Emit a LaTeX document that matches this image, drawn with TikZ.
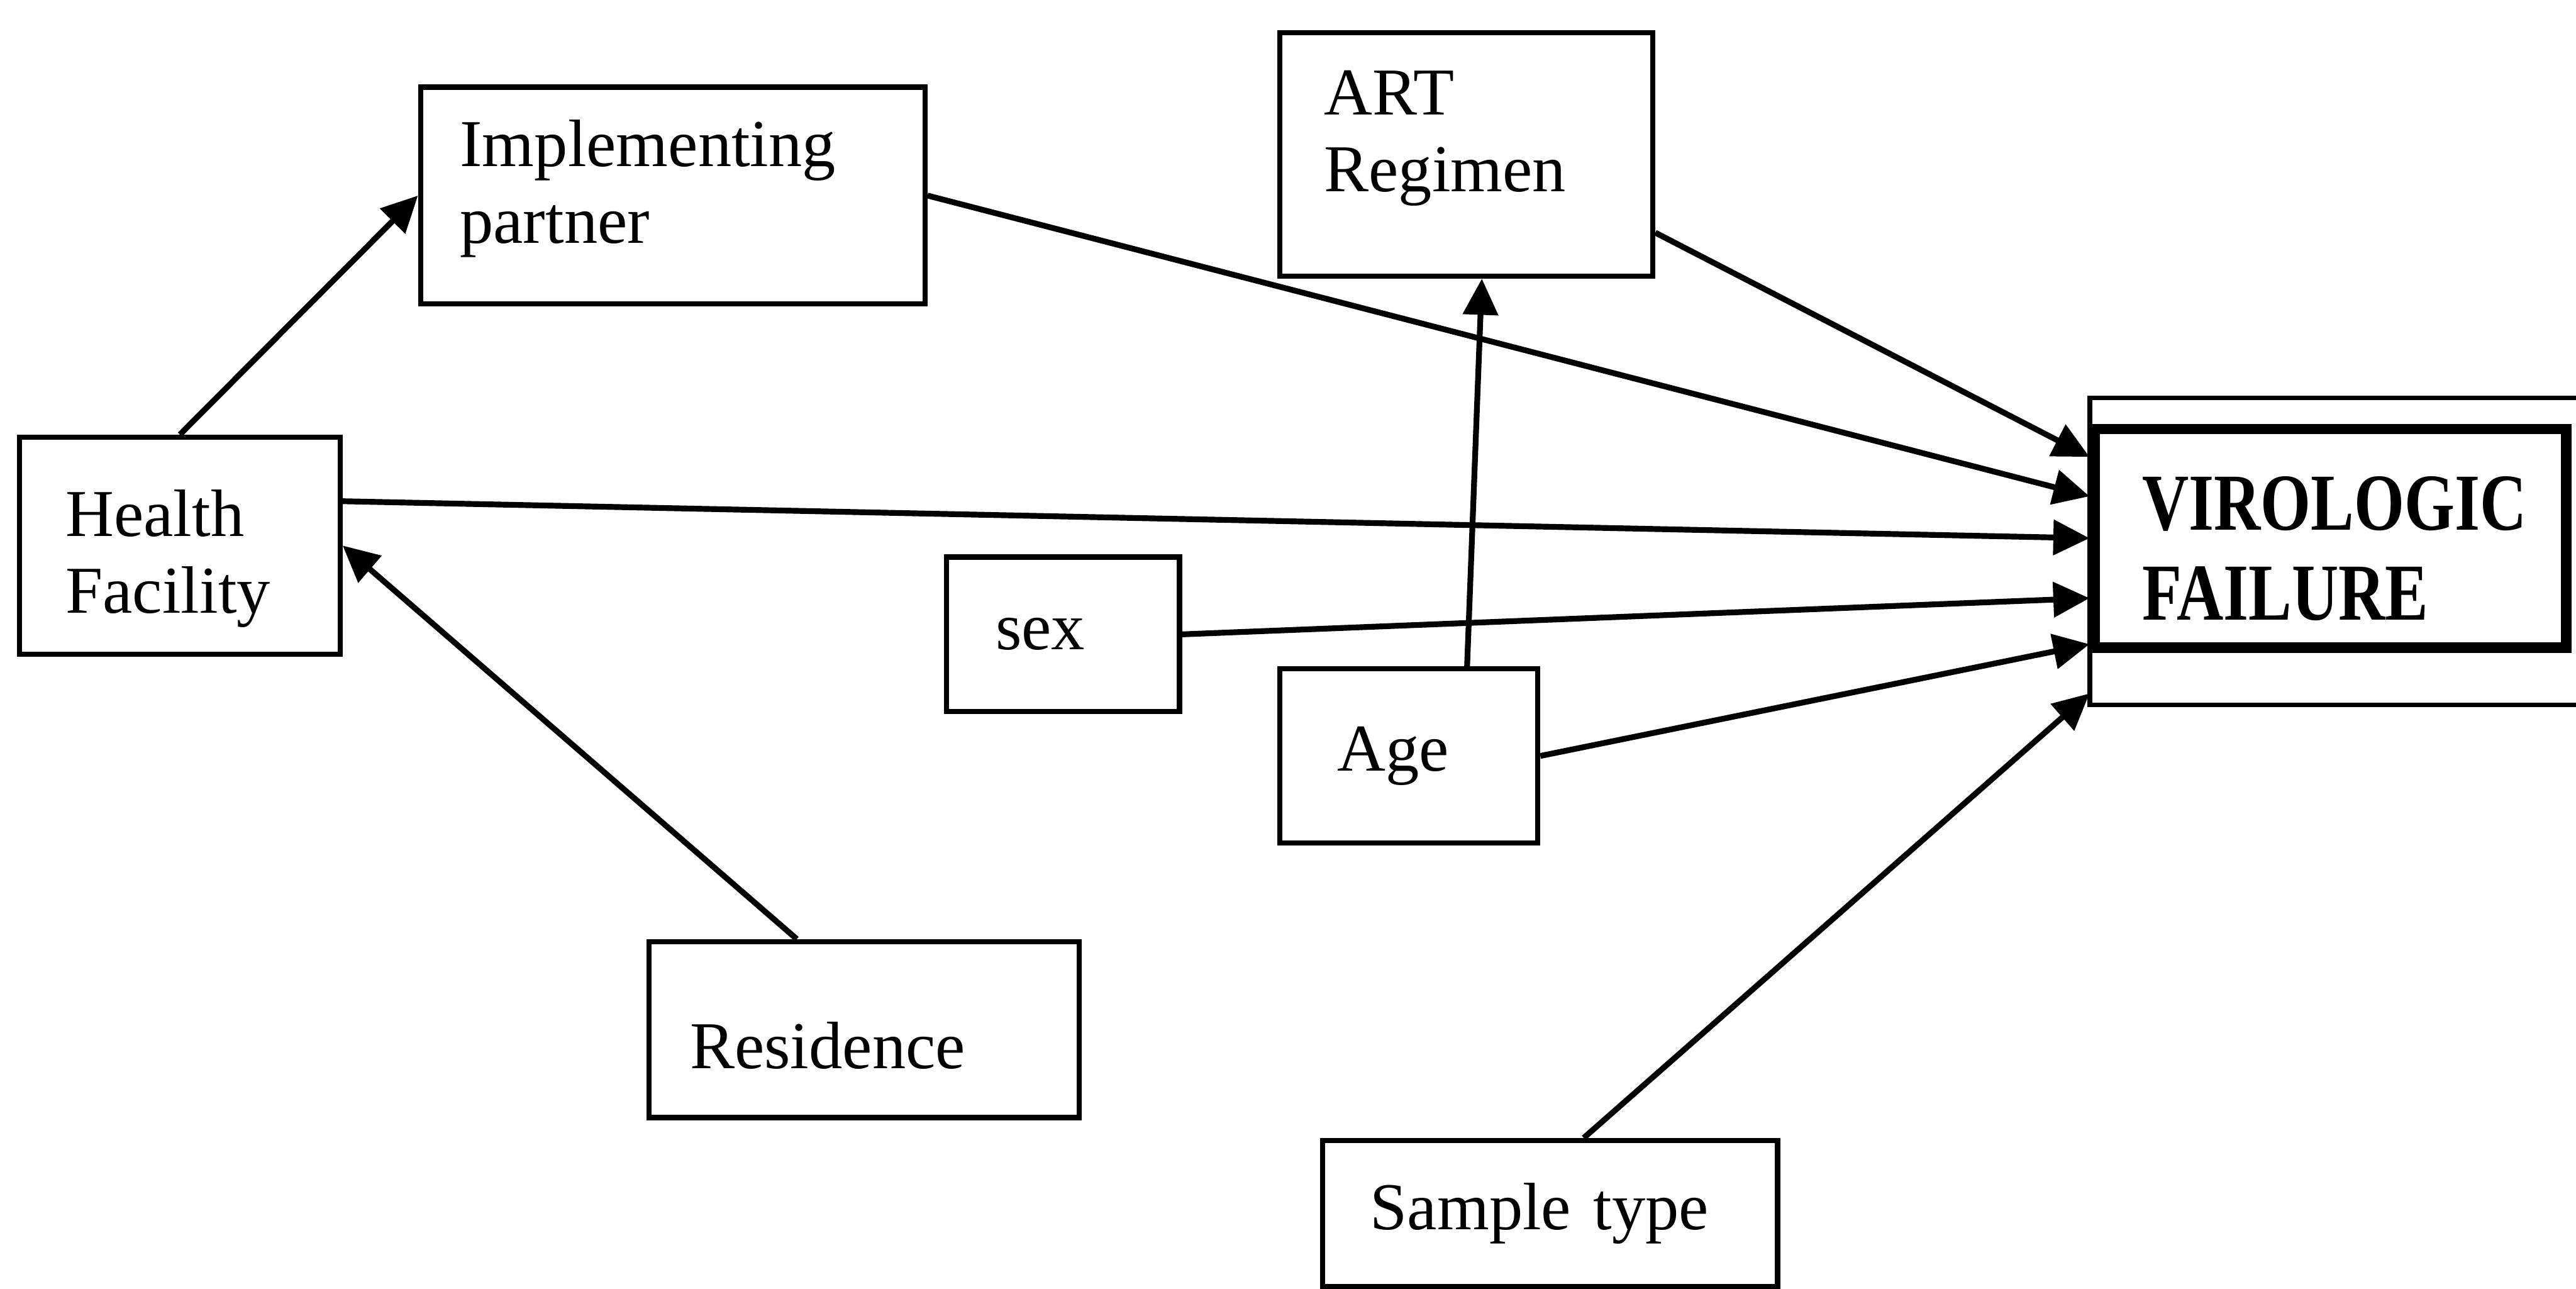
\documentclass[tikz,border=0pt]{standalone}
\usepackage{fontspec}
\setmainfont{Liberation Serif}
\newfontfamily\narrowserif[FakeStretch=0.8]{Liberation Serif}
\usetikzlibrary{arrows.meta,calc}

\begin{document}
\begin{tikzpicture}[
	factor/.style={draw, line width=0.9pt, align=left, inner ysep=0pt,
		font=\fontsize{11.6}{13.3}\selectfont},
	outcome/.style={draw, line width=1.8pt, align=left, inner ysep=0pt,
		font=\narrowserif\bfseries\fontsize{14}{15.6}\selectfont},
	link/.style={line width=1pt, -{Triangle[length=2.2mm,width=2.1mm]}}
	]
	
	\fill[white] (0,0) rectangle (15.68,7.84);
	\useasboundingbox (0,0) rectangle (15.68,7.84);
	
	% explanatory factors
	\node[factor, inner xsep=0.28cm, text width=1.39cm, minimum height=1.32cm, text depth=11.2pt] (hf) at (1.095,4.52) {Health\\Facility};
	\node[factor, inner xsep=0.24cm, text width=2.59cm, minimum height=1.32cm, text depth=18.1pt] (ip) at (4.095,6.65) {Implementing\\partner};
	\node[factor, inner xsep=0.27cm, text width=1.73cm, minimum height=1.48cm, text depth=21.5pt] (art) at (8.925,6.90) {ART\\Regimen};
	\node[factor, inner xsep=0.30cm, text width=0.82cm, minimum height=0.94cm] (sex) at (6.47,3.98) {sex};
	\node[factor, inner xsep=0.35cm, text width=0.87cm, minimum height=1.06cm] (age) at (8.575,3.24) {Age};
	\node[factor, inner xsep=0.25cm, text width=2.12cm, minimum height=1.07cm, text height=13.6pt] (res) at (5.26,1.575) {Residence};
	\node[factor, inner xsep=0.29cm, text width=2.19cm, minimum height=0.89cm] (st) at (9.435,0.455) {Sample type};
	
	% outcome (thin frame behind the thick box)
	\draw[line width=0.8pt] (12.72,3.55) rectangle (16.2,5.42);
	\node[outcome, fill=white, inner xsep=0.29cm, text width=2.29cm, minimum height=1.33cm, text depth=12.2pt] (vf) at (14.185,4.565) {VIROLOGIC\\FAILURE};
	
	% arrows into the outcome
	\draw[link] ($(art.south east)+(0,0.28)$) -- ($(vf.west)+(0,0.495)$);
	\draw[link] (ip.east) -- ($(vf.west)+(0,0.255)$);
	\draw[link] ($(hf.east)+(0,0.27)$) -- (vf.west);
	\draw[link] (sex.east) -- ($(vf.west)+(0,-0.365)$);
	\draw[link] (age.east) -- ($(vf.west)+(0,-0.645)$);
	\draw[link] ($(st.north)+(0.205,0)$) -- ($(vf.west)+(0,-0.945)$);
	
	% other paths
	\draw[link] (hf.north) -- (ip.west);
	\draw[link] ($(res.north)+(-0.41,0)$) -- (hf.east);
	\draw[link] ($(age.north)+(0.355,0)$) -- ($(art.south)+(0.095,0)$);
	
\end{tikzpicture}
\end{document}
